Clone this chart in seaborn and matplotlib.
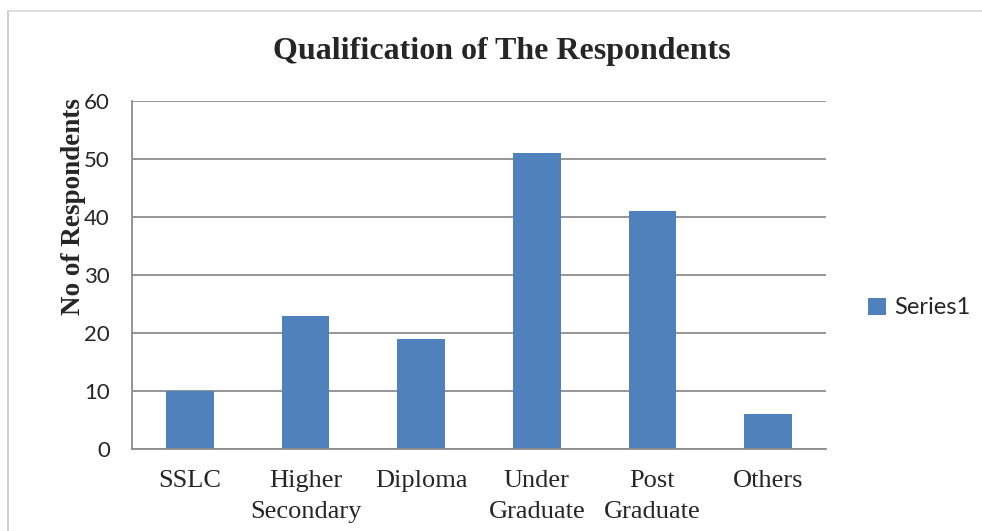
import matplotlib
matplotlib.use("Agg")
import matplotlib.pyplot as plt
import matplotlib.lines as mlines
import seaborn as sns
import pandas as pd

categories = ["SSLC", "Higher\nSecondary", "Diploma", "Under\nGraduate", "Post\nGraduate", "Others"]
respondents = [10, 23, 19, 51, 41, 6]
y_ticks = [0, 10, 20, 30, 40, 50, 60]

df = pd.DataFrame({"qualification": categories, "count": respondents})

sns.set_style("white")
plt.rcParams["font.family"] = ["Lato", "DejaVu Sans"]

fig = plt.figure(figsize=(9.82, 5.31), dpi=100)
ax = fig.add_axes([132 / 982, 1 - 449 / 531, (826 - 132) / 982, (449 - 101) / 531])

sns.barplot(data=df, x="qualification", y="count", color="#4F81BD",
            width=0.41, saturation=1, linewidth=0, label="Series1", ax=ax)

grey = "#8c8c8c"
ax.set_ylim(0, 60)
ax.set_yticks(y_ticks)
ax.set_xlim(-0.5, len(categories) - 0.5)
ax.yaxis.grid(True, color=grey, linewidth=1.3)
ax.set_axisbelow(True)
for side in ["top", "right"]:
    ax.spines[side].set_visible(False)
for side in ["left", "bottom"]:
    ax.spines[side].set_color(grey)
    ax.spines[side].set_linewidth(1.3)

ax.tick_params(axis="both", length=0)
ax.tick_params(axis="y", labelsize=16, pad=16)
ax.tick_params(axis="x", pad=15)
for lab in ax.get_xticklabels():
    lab.set_fontfamily("Liberation Serif")
    lab.set_fontsize(19)
    lab.set_linespacing(1.55)
    lab.set_verticalalignment("top")

ax.set_xlabel("")
ax.set_ylabel("")
fig.text(74 / 982, 1 - 207 / 531, "No of Respondents", rotation=90,
         ha="center", va="center", fontsize=19.5, fontweight="bold",
         family="Liberation Serif")
fig.text(502 / 982, 1 - 52 / 531, "Qualification of The Respondents",
         ha="center", va="center", fontsize=23, fontweight="bold",
         family="Liberation Serif")

ax.legend(loc="center left", bbox_to_anchor=(847 / 982, 1 - 308 / 531),
          bbox_transform=fig.transFigure, frameon=False, fontsize=17,
          handlelength=0.75, handleheight=0.75, handletextpad=0.35)

# outer chart border (top and left only visible)
fig.add_artist(mlines.Line2D([8 / 982, 8 / 982], [0, 1 - 11 / 531],
                             transform=fig.transFigure, color="#c8c8c8", lw=1.2))
fig.add_artist(mlines.Line2D([8 / 982, 1], [1 - 11 / 531, 1 - 11 / 531],
                             transform=fig.transFigure, color="#d8d8d8", lw=1.2))

fig.savefig("out.png", dpi=100)
